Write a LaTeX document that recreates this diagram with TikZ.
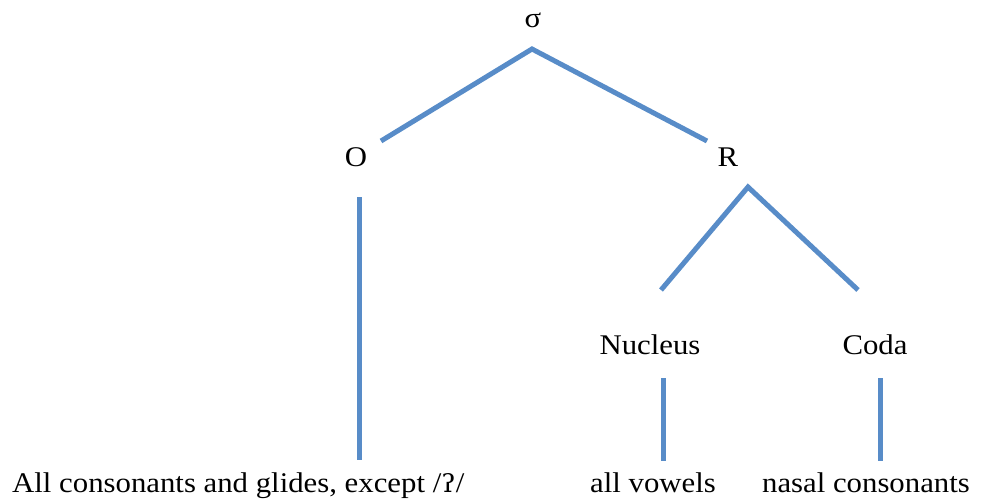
\documentclass[tikz,border=0pt]{standalone}
\usepackage{fontspec}
\setmainfont[FakeStretch=1.08]{Liberation Serif}
\newfontfamily\ipafont[FakeStretch=1.08]{DejaVu Serif}
\definecolor{branch}{RGB}{88,140,200}
\begin{document}
\begin{tikzpicture}[x=1pt,y=-1pt,
  lbl/.style={inner sep=0pt,anchor=base,font=\fontsize{28.5}{32}\selectfont},
  branchline/.style={draw=branch,line width=5pt}]
\useasboundingbox (0,0) rectangle (982,499);
% labels
\node[lbl] (sigma) at (533,27) {σ};
\node[lbl] (O) at (356,166) {O};
\node[lbl] (R) at (728,166) {R};
\node[lbl] (nuc) at (650,354) {Nucleus};
\node[lbl] (coda) at (875,354) {Coda};
\node[lbl,anchor=base west] (onset) at (12,492) {All consonants and glides, except /{\ipafont\fontsize{25}{30}\selectfont ʔ}/};
\node[lbl] (vow) at (653,492) {all vowels};
\node[lbl] (nas) at (866,492) {nasal consonants};
% connector end points
\coordinate (sA) at (532,49);
\coordinate (oT) at (381,141);
\coordinate (rT) at (707,141);
\coordinate (rA) at (748,187);
\coordinate (nT) at (661,290);
\coordinate (cT) at (858,290);
\coordinate (oB1) at (359,197);
\coordinate (oB2) at (359,460);
\coordinate (nB1) at (663,378);
\coordinate (nB2) at (663,461);
\coordinate (cB1) at (880,378);
\coordinate (cB2) at (880,461);
% connectors
\draw[branchline] (oT) -- (sA) -- (rT);
\draw[branchline] (nT) -- (rA) -- (cT);
\draw[branchline] (oB1) -- (oB2);
\draw[branchline] (nB1) -- (nB2);
\draw[branchline] (cB1) -- (cB2);
\end{tikzpicture}
\end{document}
